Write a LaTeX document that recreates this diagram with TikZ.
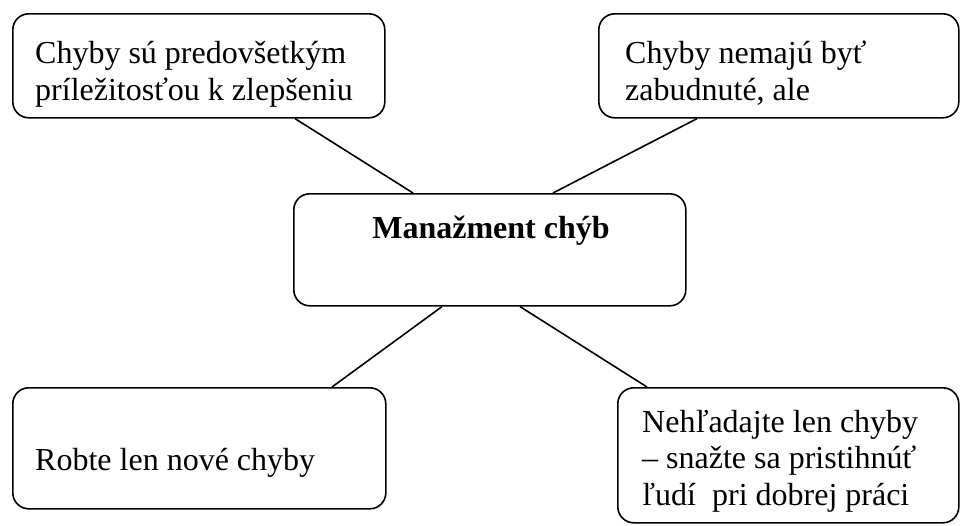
\documentclass[tikz,border=0pt]{standalone}
\usepackage{fontspec}
\setmainfont{Liberation Serif}
\begin{document}
\begin{tikzpicture}[x=1pt,y=-1pt,
  box/.style={draw, line width=1.6pt, rounded corners=16pt, inner sep=0pt, anchor=north west},
  txt/.style={anchor=base west, inner sep=0pt, font=\fontsize{32}{37}\selectfont},
  link/.style={line width=1.6pt}]
\useasboundingbox (0,0) rectangle (960,525);
% boxes
\node[box, minimum width=372pt, minimum height=104pt] (tl) at (12,13) {};
\node[box, minimum width=360pt, minimum height=104pt] (tr) at (598,13) {};
\node[box, minimum width=392pt, minimum height=112pt] (c) at (293,193) {};
\node[box, minimum width=373pt, minimum height=121pt] (bl) at (12,387) {};
\node[box, minimum width=341pt, minimum height=135pt] (br) at (617,387) {};
% texts
\node[txt] (tl1) at (35,63) {Chyby sú predovšetkým};
\node[txt] (tl2) at (35,100) {príležitosťou k zlepšeniu};
\node[txt] (tr1) at (625,63) {Chyby nemajú byť};
\node[txt] (tr2) at (625,100) {zabudnuté, ale};
\node[txt, anchor=base, font=\fontsize{32}{37}\selectfont\bfseries] (ct) at (491,238) {Manažment chýb};
\node[txt] (bl1) at (35,470) {Robte len nové chyby};
\node[txt] (br1) at (642,432) {Nehľadajte len chyby};
\node[txt] (br2) at (642,468) {– snažte sa pristihnúť};
\node[txt] (br3) at (642,505) {ľudí\ \ pri dobrej práci};
% connectors
\draw[link] ([xshift=283pt]tl.south west) -- ([xshift=120pt]c.north west);
\draw[link] ([xshift=99pt]tr.south west) -- ([xshift=260pt]c.north west);
\draw[link] ([xshift=320pt]bl.north west) -- ([xshift=149pt]c.south west);
\draw[link] ([xshift=30pt]br.north west) -- ([xshift=227pt]c.south west);
\end{tikzpicture}
\end{document}
